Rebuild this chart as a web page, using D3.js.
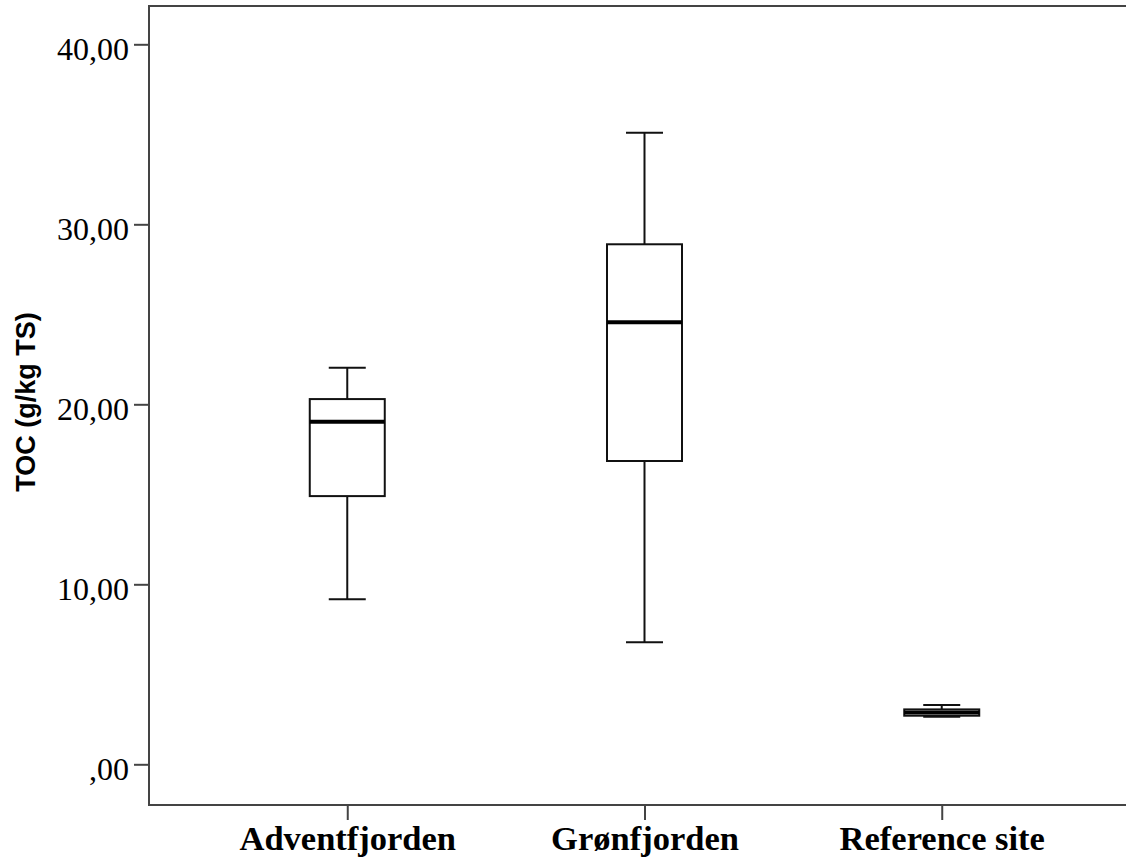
<!DOCTYPE html>
<html>
<head>
<meta charset="utf-8">
<script src="https://cdn.jsdelivr.net/npm/d3@7"></script>
<style>
  body { margin: 0; background: #fff; }
</style>
</head>
<body>
<svg id="chart"></svg>
<script>
const width = 1126;
const height = 860;

// data
const sites = ['Adventfjorden', 'Grønfjorden', 'Reference site'];
const whiskerLow = [9.17, 6.78, 2.64];
const q1 = [14.9, 16.85, 2.70];
const median = [19.03, 24.56, 2.88];
const q3 = [20.29, 28.89, 3.05];
const whiskerHigh = [22.03, 35.09, 3.29];

const yTicks = [0, 10, 20, 30, 40];
const yTickLabels = [',00', '10,00', '20,00', '30,00', '40,00'];
const yTitle = 'TOC (g/kg TS)';

const frameLeft = 149;
const frameTop = 6;
const frameBottom = 805;

const svg = d3.select('#chart')
            .attr('width', width)
            .attr('height', height);

const x = d3.scalePoint().domain(sites).range([frameLeft, 1140]).padding(0.667);
const y = d3.scaleLinear().domain([0, 40]).range([764.3, 44.3]);

const boxWidth = 75;
const capWidth = 37;
const lineColor = '#111';
const axisColor = '#444';

// frame (left, top, bottom)
svg.append('path')
    .attr('d', `M${width + 5},${frameTop}H${frameLeft}V${frameBottom}H${width + 5}`)
    .attr('fill', 'none')
    .attr('stroke', axisColor)
    .attr('stroke-width', 2);

// y axis
const yAxis = svg.append('g')
    .attr('transform', `translate(${frameLeft}, 0)`)
    .call(d3.axisLeft(y).tickValues(yTicks).tickFormat((d, i) => yTickLabels[i]).tickSize(15).tickPadding(5));
yAxis.select('.domain').remove();
yAxis.selectAll('line').attr('stroke', axisColor).attr('stroke-width', 2);
yAxis.selectAll('text')
    .attr('dy', '0.47em')
    .attr('fill', '#000')
    .style('font-family', '"Liberation Serif", "Times New Roman", serif')
    .style('font-size', '32px');

// x axis
const xAxis = svg.append('g')
    .attr('transform', `translate(0, ${frameBottom})`)
    .call(d3.axisBottom(x).tickSize(15));
xAxis.select('.domain').remove();
xAxis.selectAll('line').attr('stroke', axisColor).attr('stroke-width', 2);
xAxis.selectAll('text')
    .attr('y', 45)
    .attr('dy', 0)
    .attr('fill', '#000')
    .style('font-family', '"Liberation Serif", "Times New Roman", serif')
    .style('font-weight', 'bold')
    .style('font-size', '34.5px');

// y title
svg.append('text')
    .attr('transform', `translate(35, 402) rotate(-90)`)
    .attr('text-anchor', 'middle')
    .style('font-family', '"Liberation Sans", Arial, sans-serif')
    .style('font-weight', 'bold')
    .style('font-size', '27px')
    .text(yTitle);

// boxes
const boxes = svg.append('g').selectAll('g')
    .data(sites)
    .enter()
    .append('g');

// whisker stems
boxes.append('line')
    .attr('x1', d => x(d)).attr('x2', d => x(d))
    .attr('y1', (d, i) => y(whiskerHigh[i])).attr('y2', (d, i) => y(q3[i]))
    .attr('stroke', lineColor).attr('stroke-width', 2);
boxes.append('line')
    .attr('x1', d => x(d)).attr('x2', d => x(d))
    .attr('y1', (d, i) => y(q1[i])).attr('y2', (d, i) => y(whiskerLow[i]))
    .attr('stroke', lineColor).attr('stroke-width', 2);

// caps
boxes.append('line')
    .attr('x1', d => x(d) - capWidth / 2).attr('x2', d => x(d) + capWidth / 2)
    .attr('y1', (d, i) => y(whiskerHigh[i])).attr('y2', (d, i) => y(whiskerHigh[i]))
    .attr('stroke', lineColor).attr('stroke-width', 2);
boxes.append('line')
    .attr('x1', d => x(d) - capWidth / 2).attr('x2', d => x(d) + capWidth / 2)
    .attr('y1', (d, i) => y(whiskerLow[i])).attr('y2', (d, i) => y(whiskerLow[i]))
    .attr('stroke', lineColor).attr('stroke-width', 2);

// box
boxes.append('rect')
    .attr('x', d => x(d) - boxWidth / 2)
    .attr('width', boxWidth)
    .attr('y', (d, i) => y(q3[i]))
    .attr('height', (d, i) => y(q1[i]) - y(q3[i]))
    .attr('fill', '#fff')
    .attr('stroke', lineColor)
    .attr('stroke-width', 2);

// median
boxes.append('line')
    .attr('x1', d => x(d) - boxWidth / 2).attr('x2', d => x(d) + boxWidth / 2)
    .attr('y1', (d, i) => y(median[i])).attr('y2', (d, i) => y(median[i]))
    .attr('stroke', '#000').attr('stroke-width', 4);
</script>
</body>
</html>
